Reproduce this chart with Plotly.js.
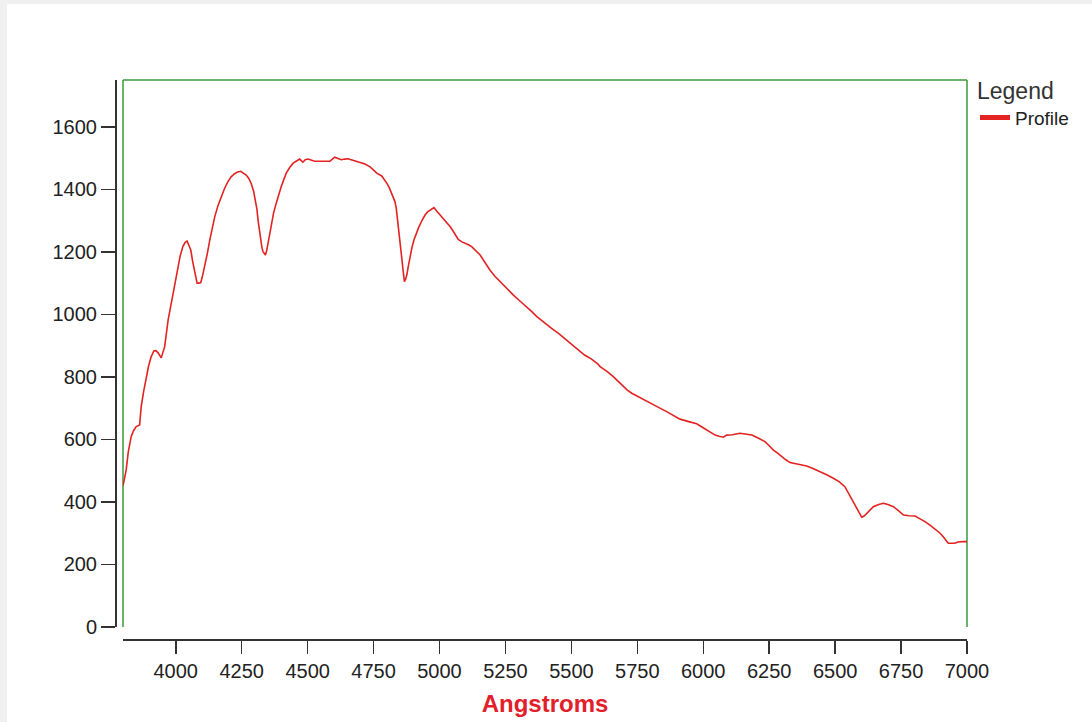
<!DOCTYPE html>
<html>
<head>
<meta charset="utf-8">
<script src="https://cdn.plot.ly/plotly-3.0.1.min.js"></script>
<style>
  html, body { margin: 0; padding: 0; background: #f0f0f0; width: 1092px; height: 722px; overflow: hidden; }
  #chart { position: absolute; left: 7px; top: 4px; width: 1085px; height: 718px; background: #ffffff; }
</style>
</head>
<body>
<div id="chart"></div>
<script>
// Wavelength (Angstroms)
const wavelength = [
  3800, 3806, 3812, 3820, 3831, 3840, 3850, 3863, 3869, 3878, 3888, 3897, 3907, 3917, 3925, 3933, 3945, 3958, 3971, 3980,
  3990, 4000, 4008, 4017, 4027, 4035, 4043, 4050, 4057, 4064, 4072, 4081, 4088, 4095, 4102, 4110, 4120, 4129, 4138, 4148,
  4160, 4173, 4185, 4198, 4210, 4223, 4235, 4246, 4257, 4267, 4277, 4286, 4295, 4302, 4308, 4312, 4317, 4322, 4327, 4331,
  4336, 4340, 4345, 4350, 4356, 4362, 4371, 4381, 4390, 4400, 4410, 4419, 4432, 4445, 4458, 4470, 4482, 4491, 4501, 4515,
  4527, 4545, 4565, 4584, 4595, 4603, 4615, 4628, 4640, 4653, 4668, 4685, 4699, 4715, 4737, 4750, 4762, 4781, 4790, 4800,
  4810, 4819, 4826, 4831, 4836, 4840, 4844, 4848, 4852, 4857, 4862, 4867, 4871, 4876, 4882, 4888, 4895, 4903, 4911, 4920,
  4932, 4945, 4955, 4964, 4972, 4979, 4990, 5002, 5020, 5040, 5055, 5071, 5085, 5097, 5110, 5122, 5138, 5154, 5172, 5191,
  5210, 5229, 5255, 5280, 5305, 5331, 5350, 5369, 5390, 5410, 5430, 5450, 5475, 5500, 5525, 5550, 5575, 5600, 5609, 5635,
  5659, 5678, 5697, 5712, 5729, 5757, 5786, 5825, 5861, 5885, 5912, 5945, 5975, 5995, 6013, 6030, 6045, 6060, 6076, 6089,
  6110, 6139, 6160, 6184, 6210, 6234, 6250, 6266, 6282, 6297, 6313, 6329, 6360, 6392, 6418, 6443, 6468, 6493, 6515, 6537,
  6553, 6569, 6585, 6601, 6610, 6620, 6632, 6645, 6665, 6683, 6700, 6721, 6740, 6759, 6780, 6803, 6822, 6841, 6862, 6885,
  6898, 6910, 6920, 6929, 6940, 6954, 6965, 6973, 6985, 7000
];
// Profile intensity
const profile = [
  452, 478, 502, 560, 609, 628, 641, 646, 705, 752, 801, 835, 865, 883, 884, 877, 861, 897, 982, 1025,
  1068, 1108, 1153, 1188, 1217, 1230, 1235, 1222, 1206, 1170, 1133, 1100, 1100, 1102, 1125, 1153, 1196, 1238, 1275, 1313,
  1348, 1377, 1403, 1425, 1440, 1450, 1456, 1458, 1453, 1446, 1435, 1419, 1395, 1366, 1335, 1302, 1270, 1238, 1212, 1201,
  1192, 1190, 1205, 1228, 1262, 1292, 1325, 1356, 1385, 1409, 1432, 1452, 1470, 1484, 1491, 1497, 1487, 1495, 1497, 1492,
  1490, 1490, 1490, 1490, 1498, 1503, 1499, 1495, 1497, 1498, 1494, 1490, 1487, 1482, 1472, 1462, 1452, 1443, 1433, 1420,
  1405, 1388, 1375, 1361, 1340, 1313, 1280, 1249, 1215, 1180, 1140, 1105, 1112, 1126, 1155, 1185, 1212, 1238, 1258, 1276,
  1298, 1318, 1328, 1334, 1338, 1342, 1330, 1318, 1300, 1281, 1262, 1240, 1232, 1228, 1223, 1217, 1204, 1190, 1167, 1142,
  1122, 1105, 1083, 1062, 1043, 1025, 1009, 993, 978, 965, 952, 940, 922, 905, 887, 870, 858, 842, 833, 818,
  801, 785, 769, 758, 748, 735, 721, 705, 689, 678, 665, 657, 650, 640, 630, 622, 614, 610, 607, 614,
  615, 620, 618, 614, 604, 593, 580, 566, 556, 545, 535, 526, 520, 515, 506, 497, 487, 476, 465, 449,
  424, 396, 372, 351, 355, 364, 376, 385, 392, 396, 392, 385, 372, 358, 356, 355, 346, 337, 324, 310,
  300, 289, 278, 268, 268, 268, 272, 273, 273, 273
];
const seriesName = 'Profile';
const xTitle = 'Angstroms';
const legendTitle = 'Legend';

const axisColor = '#333333';
const fontFam = '"Liberation Sans", Arial, sans-serif';
const labelFont = { family: fontFam, size: 20, color: '#222222' };
const frameColor = '#3a9a3a';

const plotW = 1085 - 108 - 125;
const plotH = 718 - 76 - 83;

const trace = {
  x: wavelength,
  y: profile,
  type: 'scatter',
  mode: 'lines',
  name: seriesName,
  line: { color: '#e32222', width: 1.6 },
  hoverinfo: 'x+y'
};

const frameLine = (x0, y0, x1, y1) => ({
  type: 'line', xref: 'x domain', yref: 'y domain',
  x0: x0, y0: y0, x1: x1, y1: y1,
  line: { color: frameColor, width: 1.5 }, layer: 'below'
});

const layout = {
  width: 1085,
  height: 718,
  margin: { l: 108, r: 125, t: 76, b: 83 },
  paper_bgcolor: '#ffffff',
  plot_bgcolor: '#ffffff',
  showlegend: true,
  font: labelFont,
  xaxis: {
    domain: [8 / plotW, 1],
    anchor: 'free',
    position: 0,
    range: [3800, 7000],
    tick0: 4000,
    dtick: 250,
    showgrid: false,
    zeroline: false,
    showline: true,
    linecolor: axisColor,
    linewidth: 1.5,
    ticks: 'outside',
    ticklen: 13,
    tickwidth: 1.5,
    tickcolor: axisColor,
    tickfont: labelFont,
    title: {
      text: xTitle,
      font: { family: fontFam, size: 24, color: '#e3202a', weight: 'bold' },
      standoff: 14
    }
  },
  yaxis: {
    domain: [12 / plotH, 1],
    anchor: 'free',
    position: 0,
    range: [0, 1750],
    tick0: 0,
    dtick: 200,
    showgrid: false,
    zeroline: false,
    showline: true,
    linecolor: axisColor,
    linewidth: 1.5,
    ticks: 'outside',
    ticklen: 14,
    tickwidth: 1.5,
    tickcolor: axisColor,
    tickfont: labelFont
  },
  legend: {
    x: (975 - 115) / plotW,
    xanchor: 'left',
    y: 1.02,
    yanchor: 'top',
    bgcolor: 'rgba(0,0,0,0)',
    borderwidth: 0,
    itemsizing: 'constant',
    itemwidth: 30,
    font: { family: fontFam, size: 19, color: '#222222' },
    title: { text: legendTitle, font: { family: fontFam, size: 23, color: '#333333' }, side: 'top' }
  },
  shapes: [
    frameLine(0, 0, 0, 1),
    frameLine(0, 1, 1, 1),
    frameLine(1, 0, 1, 1)
  ]
};

Plotly.newPlot('chart', [trace], layout, { displayModeBar: false, staticPlot: true });
</script>
</body>
</html>
